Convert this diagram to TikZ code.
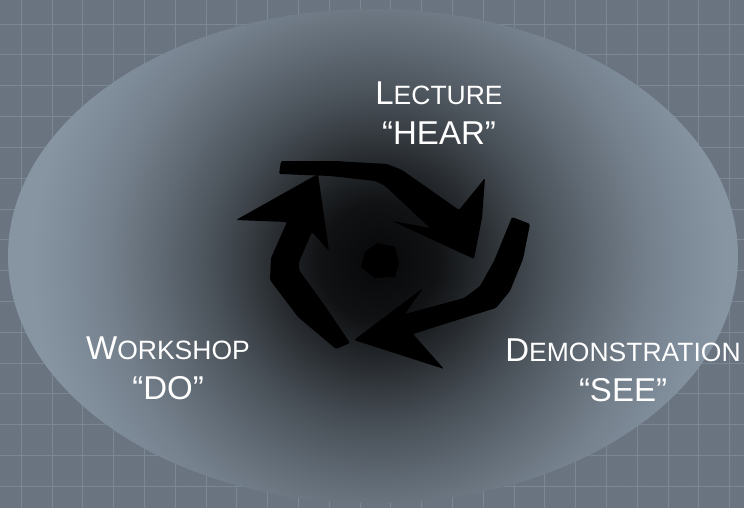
\documentclass[tikz,border=0pt]{standalone}
\usepackage{fontspec}
\setmainfont{Liberation Sans}
\usetikzlibrary{patterns}

\definecolor{boardgrey}{HTML}{6A7480}
\definecolor{boarddot}{HTML}{737D89}
\definecolor{boardline}{HTML}{7C8794}
\definecolor{rimblue}{HTML}{8795A3}

% dark hub fading out to the rim
\pgfdeclareradialshading{hubglow}{\pgfpoint{0bp}{0bp}}{%
  color(0bp)=(black!95!rimblue); color(4bp)=(black!88!rimblue);
  color(7.5bp)=(black!68!rimblue); color(11bp)=(black!47!rimblue);
  color(14.5bp)=(black!30!rimblue); color(18.5bp)=(black!13!rimblue);
  color(23.4bp)=(rimblue); color(50bp)=(rimblue)}

\tikzset{
  stage/.style={text=white, inner sep=0pt, align=center, anchor=south,
    font=\fontsize{33}{40}\selectfont},
  cyclearrow/.style={fill=black, rounded corners=1.5pt},
}
\newcommand{\capword}[2]{#1{\fontsize{26.5}{40}\selectfont #2}}

\begin{document}
\begin{tikzpicture}[x=1pt, y=-1pt]
  \useasboundingbox (0,0) rectangle (744,508);

  % --- board behind the ellipse ---
  \fill[boardgrey] (0,0) rectangle (744,508);
  \fill[pattern=dots, pattern color=boarddot] (0,0) rectangle (744,508);
  \foreach \i in {0,...,23}
    \draw[boardline, line width=0.6pt] (21+\i*30.8,0) -- (21+\i*30.8,508);
  \foreach \i in {0,...,16}
    \draw[boardline, line width=0.6pt] (0,24+\i*30.8) -- (744,24+\i*30.8);

  % --- shaded ellipse ---
  \begin{scope}
    \clip (373,256) ellipse [x radius=365, y radius=247];
    \shade[shading=hubglow] (378,262) circle [radius=370];
  \end{scope}

  % --- the three cycle arrows ---
  \fill[cyclearrow] (281,161) -- (335,161) -- (387,164) -- (402,170)
    -- (459,210) -- (485,178) -- (482,218) -- (474,259) -- (392,221)
    -- (430,228) -- (385,186) -- (375,181) -- (330,176) -- (279,174) -- cycle;
  \fill[cyclearrow] (512,217) -- (530,224) -- (523,259) -- (510,291)
    -- (496,308) -- (470,316) -- (413,334) -- (444,369) -- (354,340)
    -- (423,288) -- (405,314) -- (464,298) -- (480,286) -- (494,261) -- cycle;
  \fill[cyclearrow] (336,349) -- (298,317) -- (270,280) -- (271,258)
    -- (287,222) -- (236,220) -- (318,174) -- (329,251) -- (312,232)
    -- (299,262) -- (299,270) -- (325,306) -- (350,343) -- cycle;

  % hub in the middle
  \fill (377,243) -- (395,247) -- (399,263) -- (395,277) -- (375,278)
    -- (361,267) -- (365,252) -- cycle;

  % --- labels ---
  \node[stage] (lecture) at (439,145) {\capword{L}{ECTURE}\\``HEAR''};
  \node[stage] (workshop) at (168,400) {\capword{W}{ORKSHOP}\\``DO''};
  \node[stage] (demo) at (623,402) {\capword{D}{EMONSTRATION}\\``SEE''};
\end{tikzpicture}
\end{document}
